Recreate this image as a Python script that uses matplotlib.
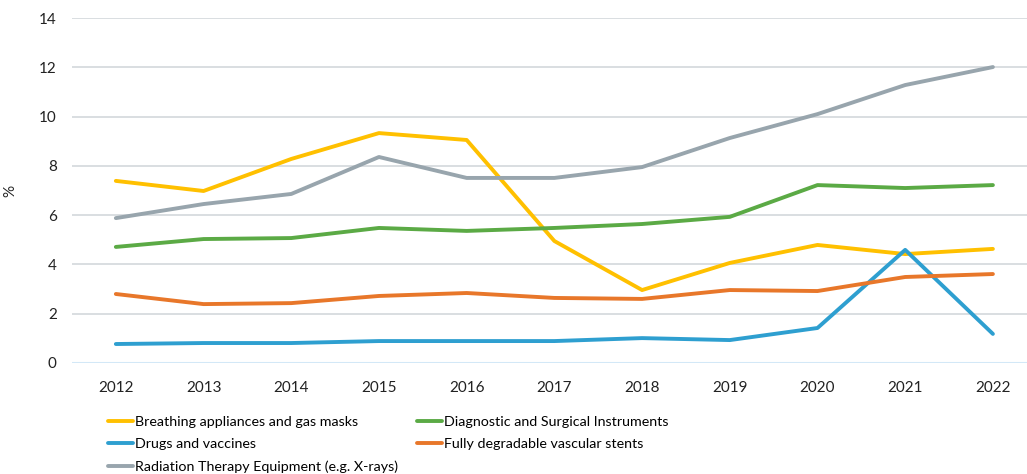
import matplotlib.pyplot as plt
import numpy as np

plt.rcParams['font.family'] = ['Lato', 'DejaVu Sans']

years = np.arange(2012, 2023)
breathing = [7.39, 6.98, 8.28, 9.33, 9.05, 4.95, 2.96, 4.06, 4.79, 4.42, 4.63]
diagnostic = [4.71, 5.03, 5.07, 5.48, 5.36, 5.48, 5.64, 5.93, 7.22, 7.10, 7.22]
drugs = [0.77, 0.81, 0.81, 0.89, 0.89, 0.89, 1.01, 0.93, 1.42, 4.59, 1.18]
stents = [2.80, 2.39, 2.43, 2.72, 2.84, 2.64, 2.60, 2.96, 2.92, 3.49, 3.61]
radiation = [5.88, 6.45, 6.86, 8.36, 7.51, 7.51, 7.95, 9.13, 10.10, 11.28, 12.01]

names = ['Breathing appliances and gas masks', 'Drugs and vaccines',
         'Radiation Therapy Equipment (e.g. X-rays)',
         'Diagnostic and Surgical Instruments', 'Fully degradable vascular stents']
series = [breathing, drugs, radiation, diagnostic, stents]
colors = ['#FFC000', '#2E9FD0', '#98A5AD', '#5BAA45', '#E8772A']

fig = plt.figure(figsize=(10.27, 4.74), dpi=100)
ax = fig.add_axes([0.0701, 0.2342, 0.930, 0.7278])

handles = []
for s, c, n in zip(series, colors, names):
    h, = ax.plot(years, s, color=c, lw=2.8, solid_capstyle='round', solid_joinstyle='round', label=n, zorder=3)
    handles.append(h)

ax.set_xlim(2011.5, 2022.39)
ax.set_ylim(0, 14)
ax.set_yticks(range(0, 15, 2))
ax.set_xticks(years)
ax.grid(axis='y', color='#D0D4D8', lw=1.1)
ax.axhline(0, color='#D3E8F7', lw=1.5, zorder=2)
for sp in ax.spines.values():
    sp.set_visible(False)
ax.tick_params(length=0, labelsize=11, colors='#222222', pad=13)
ax.tick_params(axis='y', pad=11)
ax.set_ylabel('%', fontsize=11, color='#222222')
ax.yaxis.set_label_coords(-0.057, 0.5)

fig.legend(handles=handles, loc='upper left', bbox_to_anchor=(108 / 1027, 1 - 416 / 474),
           ncol=2, frameon=False, fontsize=10.3, handlelength=1.75, handletextpad=0.15,
           columnspacing=1.3, borderpad=0, borderaxespad=0, labelspacing=0.72)

plt.savefig('out.png', dpi=100)
